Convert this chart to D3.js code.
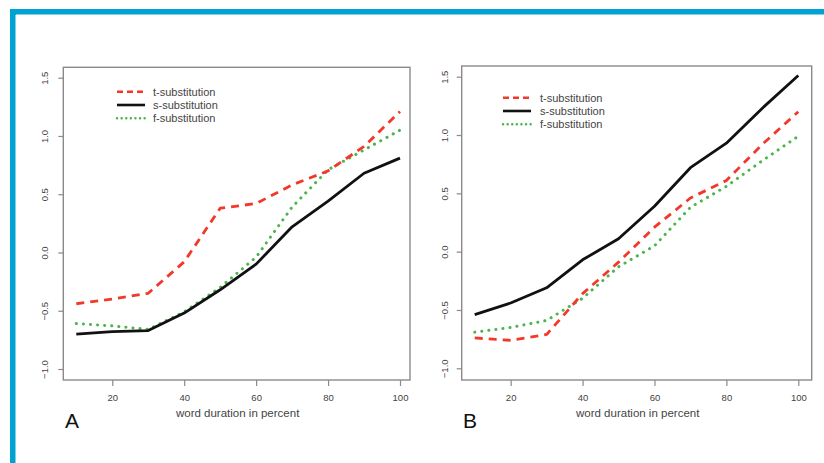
<!DOCTYPE html>
<html><head><meta charset="utf-8">
<script src="https://cdn.jsdelivr.net/npm/d3@7"></script>
<style>body{margin:0;background:#fff}svg{display:block}</style>
</head><body>
<svg id="c" width="824" height="463"></svg>
<script>
const xValues = [10,20,30,40,50,60,70,80,90,100];
const xTicks = [20,40,60,80,100];
const yTicks = [-1.0,-0.5,0.0,0.5,1.0,1.5];
const seriesNames = ["t-substitution","s-substitution","f-substitution"];
// Panel A
const tSubA = [-0.44,-0.40,-0.35,-0.08,0.38,0.42,0.58,0.70,0.91,1.21];
const sSubA = [-0.70,-0.68,-0.67,-0.52,-0.32,-0.10,0.22,0.44,0.68,0.81];
const fSubA = [-0.61,-0.63,-0.66,-0.51,-0.30,-0.04,0.39,0.71,0.88,1.05];
// Panel B
const tSubB = [-0.74,-0.76,-0.71,-0.36,-0.09,0.21,0.46,0.61,0.92,1.20];
const sSubB = [-0.54,-0.44,-0.31,-0.07,0.11,0.39,0.72,0.93,1.23,1.51];
const fSubB = [-0.69,-0.65,-0.59,-0.40,-0.13,0.05,0.38,0.56,0.78,0.99];

const svg = d3.select("#c");
// frame
svg.append("rect").attr("x",10).attr("y",9).attr("width",814).attr("height",6).attr("fill","#00a3d0");
svg.append("rect").attr("x",10).attr("y",9).attr("width",6).attr("height",454).attr("fill","#00a3d0");
svg.append("line").attr("x1",16).attr("x2",824).attr("y1",14.5).attr("y2",14.5).attr("stroke","#7fd0ea").attr("stroke-width",1);
svg.append("line").attr("x1",15.5).attr("x2",15.5).attr("y1",15).attr("y2",463).attr("stroke","#7fd0ea").attr("stroke-width",1);

const styles = [
  {color:"#f2382a", dash:"8,6", width:2.8, cap:"butt"},
  {color:"#111", dash:null, width:2.8, cap:"butt"},
  {color:"#4cb44c", dash:"0.1,7", width:3, cap:"round"}
];
const legDash = ["6,4", null, "0.1,4.5"];
const font = "Liberation Sans, Arial, sans-serif";

function panel(cfg){
  const x = d3.scaleLinear().domain([10,100]).range(cfg.xr);
  const y = d3.scaleLinear().domain([-1,1.5]).range(cfg.yr);
  const g = svg.append("g");
  g.append("rect").attr("x",cfg.box[0]).attr("y",cfg.box[1])
    .attr("width",cfg.box[2]-cfg.box[0]).attr("height",cfg.box[3]-cfg.box[1])
    .attr("fill","none").attr("stroke","#8a8a8a").attr("stroke-width",1.4);
  const ax = g.append("g").attr("transform",`translate(0,${cfg.box[3]})`)
    .call(d3.axisBottom(x).tickValues(xTicks).tickSize(6).tickPadding(8).tickFormat(d3.format("d")));
  ax.select(".domain").remove();
  ax.selectAll("line").attr("stroke","#8a8a8a").attr("stroke-width",1.2);
  ax.selectAll("text").attr("fill","#444").style("font-family",font).style("font-size","9.5px");
  const ay = g.append("g").attr("transform",`translate(${cfg.box[0]},0)`)
    .call(d3.axisLeft(y).tickValues(yTicks).tickSize(5).tickFormat(d3.format(".1f")));
  ay.select(".domain").remove();
  ay.selectAll("line").attr("stroke","#8a8a8a").attr("stroke-width",1.2);
  ay.selectAll("text").attr("fill","#444").style("font-family",font).style("font-size","9.5px")
    .attr("text-anchor","middle").attr("x",null)
    .attr("transform",`translate(${-cfg.box[0]+cfg.ylabX},0) rotate(-90)`)
    .attr("y",0).attr("dy","0.35em");
  g.append("text").attr("x",(cfg.box[0]+cfg.box[2])/2+1).attr("y",417).attr("text-anchor","middle")
    .attr("fill","#444").style("font-family",font).style("font-size","11.5px")
    .text("word duration in percent");
  const line = d3.line().x((d,i)=>x(xValues[i])).y(d=>y(d));
  [2,0,1].forEach(k=>{
    g.append("path").datum(cfg.data[k]).attr("d",line).attr("fill","none")
      .attr("stroke",styles[k].color).attr("stroke-width",styles[k].width)
      .attr("stroke-dasharray",styles[k].dash).attr("stroke-linecap",styles[k].cap)
      .attr("stroke-linejoin","round");
  });
  seriesNames.forEach((n,k)=>{
    const ly = cfg.leg[1] + k*cfg.legStep;
    g.append("line").attr("x1",cfg.leg[0]).attr("x2",cfg.leg[0]+28).attr("y1",ly).attr("y2",ly)
      .attr("stroke",styles[k].color).attr("stroke-width",k===2?2.4:2.6)
      .attr("stroke-dasharray",legDash[k]).attr("stroke-linecap",styles[k].cap);
    g.append("text").attr("x",cfg.leg[0]+cfg.legText).attr("y",ly).attr("dy","0.35em")
      .attr("fill","#444").style("font-family",font).style("font-size","11px")
      .text(n);
  });
  g.append("text").attr("x",cfg.letter[0]).attr("y",cfg.letter[1]).attr("fill","#111")
    .style("font-family",font).style("font-size","21px").text(cfg.name);
}

panel({name:"A", xr:[76.3,400], yr:[369,77.7], box:[63.3,67.3,410,380], ylabX:45,
  data:[tSubA,sSubA,fSubA], leg:[117,91.7], legStep:13.3, legText:36, letter:[65,428]});
panel({name:"B", xr:[474.7,798.3], yr:[368.3,76.7], box:[461.7,66,811.7,380], ylabX:445,
  data:[tSubB,sSubB,fSubB], leg:[503,97.7], legStep:13.3, legText:37, letter:[463,428]});
</script>
</body></html>
